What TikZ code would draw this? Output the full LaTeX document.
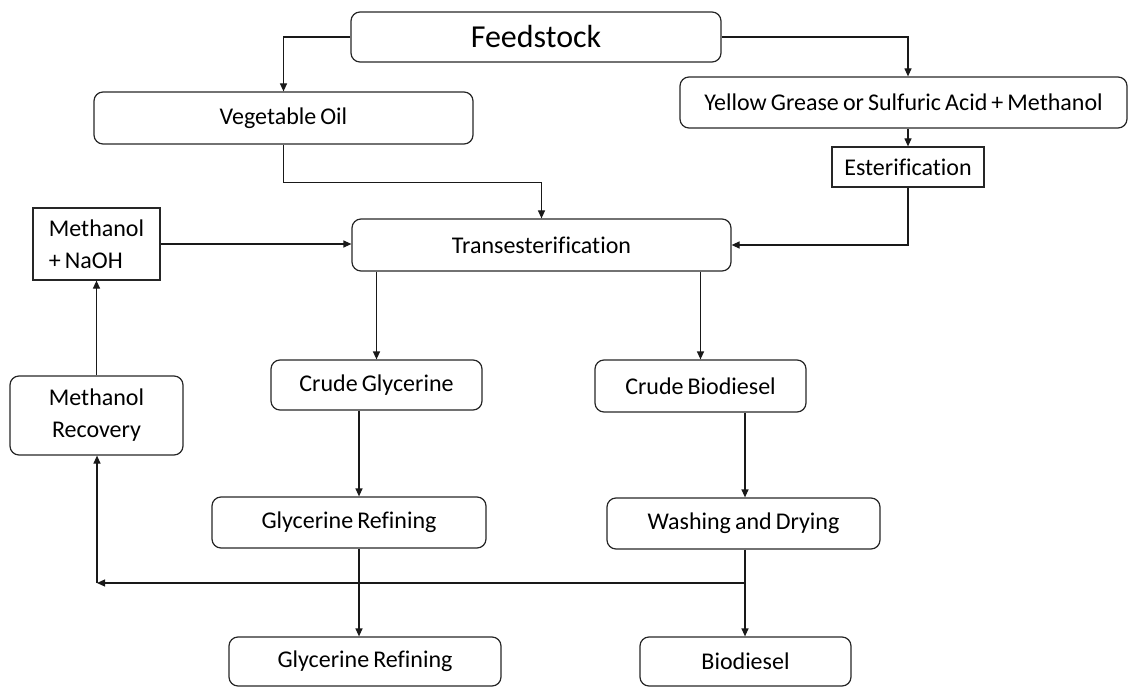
\documentclass[tikz,border=0pt]{standalone}
\usepackage{fontspec}
\setmainfont{Carlito}[Ligatures=NoCommon, WordSpace=0.75]
\usetikzlibrary{arrows.meta}
\tikzset{
  box/.style={draw=black!85, line width=1.2pt, rounded corners=9pt, inner sep=0pt,
    font=\fontsize{24}{32}\selectfont},
  sqbox/.style={draw=black!85, line width=1.2pt, inner sep=0pt,
    font=\fontsize{24}{32}\selectfont},
  arr/.style={draw=black!90, line width=1.2pt, -{Triangle[length=8pt,width=7pt]}},
  ln/.style={draw=black!90, line width=1.2pt}
}
\begin{document}
\begin{tikzpicture}[x=1pt,y=-1pt]
\useasboundingbox (0,0) rectangle (1130,687);
\node[box, minimum width=370pt, minimum height=50pt, font=\fontsize{32}{38}\selectfont] (feed) at (536,37) {Feedstock};
\node[box, minimum width=379pt, minimum height=52pt] (veg) at (283.5,118) {Vegetable Oil};
\node[box, minimum width=447pt, minimum height=51pt] (yel) at (903.5,102.5) {Yellow Grease or Sulfuric Acid + Methanol};
\node[sqbox, minimum width=152pt, minimum height=40pt] (est) at (908,167) {Esterification};
\node[sqbox, minimum width=127pt, minimum height=72pt, align=left] (naoh) at (96.5,244) {Methanol\\+ NaOH};
\node[box, minimum width=379pt, minimum height=52pt] (trans) at (541.5,245) {Transesterification};
\node[box, minimum width=211pt, minimum height=50pt] (cg) at (376.5,385) {Crude Glycerine};
\node[box, minimum width=211pt, minimum height=52pt] (cb) at (700.5,386) {Crude Biodiesel};
\node[box, minimum width=173pt, minimum height=79pt, align=center] (mr) at (96.5,415.5) {Methanol\\Recovery};
\node[box, minimum width=274pt, minimum height=51pt] (gr1) at (349,522.5) {Glycerine Refining};
\node[box, minimum width=273pt, minimum height=51pt] (wd) at (743.5,523.5) {Washing and Drying};
\node[box, minimum width=272pt, minimum height=49pt] (gr2) at (365,661.5) {Glycerine Refining};
\node[box, minimum width=211pt, minimum height=49pt] (bio) at (745.5,661.5) {Biodiesel};

\coordinate (c1) at (359,0);
\coordinate (c2) at (745,0);
\coordinate (j) at (745,583);
\coordinate (k) at (97,583);

\draw[arr] (feed.west) -| (veg.north);
\draw[arr] (feed.east) -| (est.north |- yel.north);
\draw[arr] (est.north |- yel.south) -- (est.north);
\draw[arr] (veg.south) -- ++(0,38) -| (trans.north);
\draw[arr] (est.south) |- (trans.east);
\draw[arr] (naoh.east) -- (naoh.east -| trans.west);
\draw[arr] (cg.north |- trans.south) -- (cg.north);
\draw[arr] (cb.north |- trans.south) -- (cb.north);
\draw[arr] (c1 |- cg.south) -- (c1 |- gr1.north);
\draw[arr] (c1 |- gr1.south) -- (c1 |- gr2.north);
\draw[arr] (c2 |- cb.south) -- (c2 |- wd.north);
\draw[arr] (c2 |- wd.south) -- (c2 |- bio.north);
\draw[arr] (j) -- (k);
\draw[arr] (k) -- (k |- mr.south);
\draw[arr] (mr.north) -- (naoh.south);
\end{tikzpicture}
\end{document}
